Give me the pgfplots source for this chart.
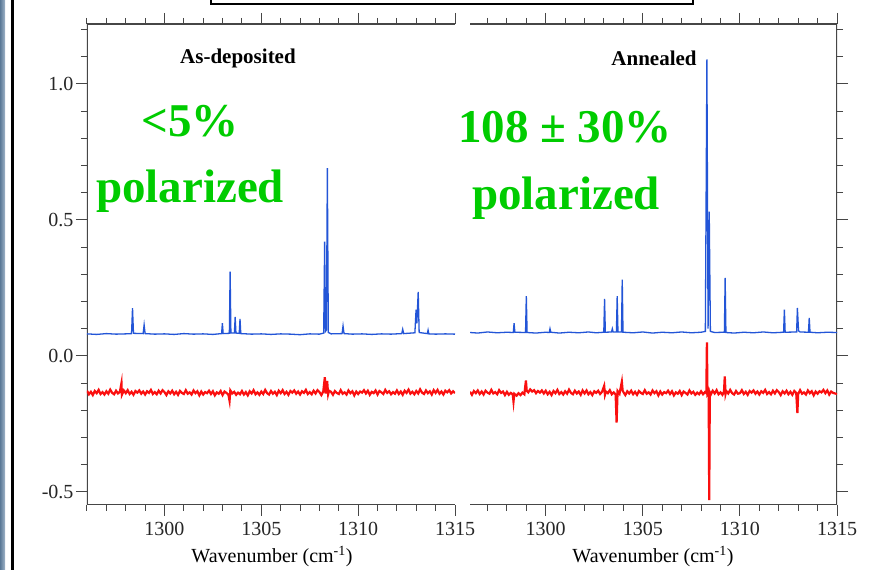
\documentclass[border=0pt]{standalone}
\usepackage{fontspec}
\setmainfont{Liberation Serif}
\usepackage{pgfplots}
\pgfplotsset{compat=1.18}
\definecolor{specblue}{RGB}{35,85,215}
\definecolor{specred}{RGB}{250,15,15}
\definecolor{polgreen}{RGB}{0,204,0}
\definecolor{axgray}{RGB}{70,70,70}
\definecolor{stripA}{RGB}{90,120,150}
\definecolor{stripB}{RGB}{160,180,200}
\begin{document}
\begin{tikzpicture}[x=1pt,y=1pt]
\path[use as bounding box] (0,0) rectangle (871,570);
\fill[white] (0,0) rectangle (871,570);
\shade[left color=stripA, right color=stripB] (0,0) rectangle (5,570);
\draw[black, line width=3pt] (12.5,0) -- (12.5,570);
\draw[black, line width=2pt] (211,575) -- (211,565.5) -- (693,565.5) -- (693,575);
\pgfplotsset{panel/.style={
  scale only axis, height=481pt, xmax=1315, ymin=-0.548, ymax=1.22,
  axis line style={draw=none},
  tick style={axgray, line width=1pt},
  tick align=outside, major tick length=11pt, minor tick length=6pt,
  xtick pos=both, xticklabel pos=bottom,
  xtick={1300,1305,1310,1315}, xticklabels={1300,1305,1310,1315},
  minor xtick={1296,1297,1298,1299,1301,1302,1303,1304,1306,1307,1308,1309,1311,1312,1313,1314},
  ytick={-0.5,0,0.5,1},
  minor ytick={-0.4,-0.3,-0.2,-0.1,0.1,0.2,0.3,0.4,0.6,0.7,0.8,0.9,1.1,1.2},
  ticklabel style={font=\fontsize{20}{22}\selectfont, text=black!85},
  xticklabel style={yshift=-3pt},
}}
% ---------------- As-deposited ----------------
\begin{axis}[panel, at={(87pt,65pt)}, anchor=south west, width=368pt, xmin=1296,
  ytick pos=left, yticklabels={-0.5,0.0,0.5,1.0}, yticklabel style={xshift=1pt}]
\draw[axgray, line width=1.2pt] (rel axis cs:1,1) -- (rel axis cs:0,1) -- (rel axis cs:0,0) -- (rel axis cs:1,0);
\addplot[specblue, line width=1.3pt] coordinates {
(1296.0,0.081)(1296.5,0.079)(1297.0,0.082)(1297.5,0.080)(1298.0,0.081)(1298.3,0.082)(1298.35,0.176)(1298.4,0.083)
(1298.9,0.082)(1298.95,0.114)(1299.0,0.082)(1299.5,0.080)(1300.0,0.081)(1300.5,0.079)(1301.0,0.082)(1301.5,0.080)
(1302.0,0.081)(1302.5,0.079)(1302.95,0.082)(1302.99,0.120)(1303.03,0.082)(1303.35,0.083)(1303.39,0.310)(1303.43,0.084)
(1303.61,0.084)(1303.65,0.143)(1303.69,0.084)(1303.86,0.083)(1303.9,0.136)(1303.94,0.082)(1304.5,0.080)(1305.0,0.081)
(1305.5,0.079)(1306.0,0.081)(1306.5,0.080)(1307.0,0.078)(1307.5,0.081)(1308.0,0.080)(1308.22,0.084)(1308.27,0.420)
(1308.31,0.090)(1308.36,0.095)(1308.41,0.690)(1308.46,0.086)(1308.6,0.081)(1309.17,0.082)(1309.22,0.110)(1309.27,0.082)
(1309.7,0.080)(1310.2,0.081)(1310.7,0.079)(1311.2,0.081)(1311.7,0.080)(1312.25,0.082)(1312.3,0.098)(1312.35,0.082)
(1312.93,0.085)(1312.99,0.170)(1313.03,0.120)(1313.1,0.235)(1313.15,0.086)(1313.57,0.082)(1313.61,0.095)(1313.65,0.081)
(1314.0,0.080)(1314.5,0.081)(1315.0,0.080)};
\addplot[specred, line width=2.2pt] coordinates {
(1296.0,-0.128)(1296.1,-0.141)(1296.2,-0.132)(1296.3,-0.144)(1296.4,-0.129)(1296.5,-0.137)(1296.6,-0.125)(1296.7,-0.140)
(1296.8,-0.133)(1296.9,-0.142)(1297.0,-0.130)(1297.1,-0.139)(1297.2,-0.124)(1297.3,-0.136)(1297.4,-0.141)(1297.5,-0.128)
(1297.6,-0.138)(1297.7,-0.131)(1297.78,-0.100)(1297.8,-0.143)(1297.9,-0.127)
(1298.0,-0.137)(1298.1,-0.126)(1298.2,-0.140)(1298.3,-0.132)(1298.4,-0.143)(1298.5,-0.129)(1298.6,-0.135)(1298.7,-0.127)
(1298.8,-0.139)(1298.9,-0.131)(1299.0,-0.142)(1299.1,-0.130)(1299.2,-0.136)(1299.3,-0.125)(1299.4,-0.140)(1299.5,-0.133)
(1299.6,-0.141)(1299.7,-0.128)(1299.8,-0.138)(1299.9,-0.126)
(1300.0,-0.133)(1300.1,-0.144)(1300.2,-0.130)(1300.3,-0.138)(1300.4,-0.128)(1300.5,-0.141)(1300.6,-0.132)(1300.7,-0.143)
(1300.8,-0.129)(1300.9,-0.136)(1301.0,-0.140)(1301.1,-0.126)(1301.2,-0.139)(1301.3,-0.134)(1301.4,-0.142)(1301.5,-0.127)
(1301.6,-0.137)(1301.7,-0.130)(1301.8,-0.145)(1301.9,-0.131)
(1302.0,-0.142)(1302.1,-0.133)(1302.2,-0.137)(1302.3,-0.128)(1302.4,-0.140)(1302.5,-0.130)(1302.6,-0.145)(1302.7,-0.134)
(1302.8,-0.139)(1302.9,-0.129)(1303.0,-0.144)(1303.1,-0.131)(1303.2,-0.136)(1303.3,-0.142)(1303.36,-0.165)(1303.4,-0.127)
(1303.5,-0.138)(1303.6,-0.132)(1303.7,-0.143)(1303.8,-0.135)(1303.9,-0.141)
(1304.0,-0.129)(1304.1,-0.142)(1304.2,-0.133)(1304.3,-0.145)(1304.4,-0.130)(1304.5,-0.138)(1304.6,-0.126)(1304.7,-0.141)
(1304.8,-0.134)(1304.9,-0.143)(1305.0,-0.131)(1305.1,-0.140)(1305.2,-0.125)(1305.3,-0.137)(1305.4,-0.142)(1305.5,-0.129)
(1305.6,-0.139)(1305.7,-0.132)(1305.8,-0.144)(1305.9,-0.128)
(1306.0,-0.137)(1306.1,-0.126)(1306.2,-0.140)(1306.3,-0.132)(1306.4,-0.143)(1306.5,-0.129)(1306.6,-0.135)(1306.7,-0.127)
(1306.8,-0.139)(1306.9,-0.131)(1307.0,-0.142)(1307.1,-0.130)(1307.2,-0.136)(1307.3,-0.125)(1307.4,-0.140)(1307.5,-0.133)
(1307.6,-0.141)(1307.7,-0.128)(1307.8,-0.138)(1307.9,-0.126)
(1308.0,-0.133)(1308.1,-0.144)(1308.2,-0.130)(1308.28,-0.078)(1308.32,-0.138)(1308.40,-0.092)(1308.45,-0.141)(1308.5,-0.128)
(1308.6,-0.132)(1308.7,-0.143)(1308.8,-0.129)(1308.9,-0.136)(1309.0,-0.140)(1309.1,-0.126)(1309.2,-0.139)(1309.3,-0.134)
(1309.4,-0.142)(1309.5,-0.127)(1309.6,-0.137)(1309.7,-0.130)(1309.8,-0.145)(1309.9,-0.131)
(1310.0,-0.140)(1310.1,-0.131)(1310.2,-0.135)(1310.3,-0.126)(1310.4,-0.138)(1310.5,-0.128)(1310.6,-0.143)(1310.7,-0.132)
(1310.8,-0.137)(1310.9,-0.127)(1311.0,-0.142)(1311.1,-0.129)(1311.2,-0.134)(1311.3,-0.140)(1311.4,-0.125)(1311.5,-0.136)
(1311.6,-0.130)(1311.7,-0.141)(1311.8,-0.133)(1311.9,-0.139)
(1312.0,-0.127)(1312.1,-0.140)(1312.2,-0.131)(1312.3,-0.143)(1312.4,-0.128)(1312.5,-0.136)(1312.6,-0.124)(1312.7,-0.139)
(1312.8,-0.132)(1312.9,-0.141)(1313.0,-0.129)(1313.1,-0.138)(1313.2,-0.123)(1313.3,-0.135)(1313.4,-0.140)(1313.5,-0.127)
(1313.6,-0.137)(1313.7,-0.130)(1313.8,-0.142)(1313.9,-0.126)
(1314.0,-0.136)(1314.1,-0.125)(1314.2,-0.139)(1314.3,-0.131)(1314.4,-0.142)(1314.5,-0.128)(1314.6,-0.134)(1314.7,-0.126)
(1314.8,-0.138)(1314.9,-0.130)(1315.0,-0.137)};
\end{axis}
% ---------------- Annealed ----------------
\begin{axis}[panel, at={(470pt,65pt)}, anchor=south west, width=367pt, xmin=1296.1,
  ytick pos=right, yticklabels={}]
\draw[axgray, line width=1.2pt] (rel axis cs:0,1) -- (rel axis cs:1,1) -- (rel axis cs:1,0) -- (rel axis cs:0,0);
\addplot[specblue, line width=1.3pt] coordinates {
(1296.1,0.086)(1296.5,0.084)(1297.0,0.088)(1297.5,0.085)(1298.0,0.087)(1298.33,0.086)(1298.37,0.120)(1298.41,0.087)
(1298.96,0.086)(1299.0,0.220)(1299.04,0.086)(1299.5,0.084)(1300.0,0.087)(1300.18,0.086)(1300.22,0.100)(1300.26,0.087)
(1300.7,0.084)(1301.2,0.087)(1301.7,0.085)(1302.2,0.088)(1302.6,0.085)(1302.99,0.087)(1303.03,0.210)(1303.07,0.087)
(1303.39,0.088)(1303.43,0.100)(1303.47,0.088)(1303.64,0.088)(1303.68,0.220)(1303.72,0.088)(1303.9,0.088)(1303.94,0.280)
(1303.98,0.087)(1304.5,0.085)(1305.0,0.088)(1305.5,0.084)(1306.0,0.087)(1306.5,0.085)(1307.0,0.088)(1307.5,0.085)
(1308.0,0.087)(1308.22,0.090)(1308.30,1.090)(1308.36,0.100)(1308.42,0.530)(1308.48,0.090)(1308.7,0.086)(1309.2,0.087)
(1309.24,0.287)(1309.28,0.086)(1309.7,0.084)(1310.2,0.087)(1310.7,0.085)(1311.2,0.088)(1311.7,0.085)(1312.25,0.087)
(1312.29,0.170)(1312.33,0.087)(1312.92,0.088)(1312.96,0.176)(1313.02,0.092)(1313.1,0.088)(1313.53,0.087)(1313.57,0.140)
(1313.61,0.087)(1314.0,0.085)(1314.5,0.087)(1315.0,0.086)};
\addplot[specred, line width=2.2pt] coordinates {
(1296.1,-0.132)(1296.2,-0.143)(1296.3,-0.129)(1296.4,-0.137)(1296.5,-0.127)(1296.6,-0.140)(1296.7,-0.131)(1296.8,-0.142)
(1296.9,-0.128)(1297.0,-0.135)(1297.1,-0.139)(1297.2,-0.125)(1297.3,-0.138)(1297.4,-0.133)(1297.5,-0.141)(1297.6,-0.126)
(1297.7,-0.136)(1297.8,-0.131)(1297.9,-0.144)(1298.0,-0.132)(1298.1,-0.143)(1298.2,-0.136)(1298.3,-0.141)(1298.34,-0.168)
(1298.38,-0.139)(1298.5,-0.146)(1298.6,-0.137)(1298.7,-0.144)(1298.8,-0.135)(1298.9,-0.141)(1298.98,-0.090)(1299.02,-0.128)
(1299.1,-0.134)(1299.2,-0.123)(1299.3,-0.131)(1299.4,-0.126)(1299.5,-0.137)(1299.6,-0.129)(1299.7,-0.135)(1299.8,-0.127)
(1299.9,-0.138)
(1300.0,-0.128)(1300.1,-0.141)(1300.2,-0.132)(1300.3,-0.144)(1300.4,-0.129)(1300.5,-0.137)(1300.6,-0.125)(1300.7,-0.140)
(1300.8,-0.133)(1300.9,-0.142)(1301.0,-0.130)(1301.1,-0.139)(1301.2,-0.124)(1301.3,-0.136)(1301.4,-0.141)(1301.5,-0.128)
(1301.6,-0.138)(1301.7,-0.131)(1301.8,-0.143)(1301.9,-0.127)
(1302.0,-0.138)(1302.1,-0.127)(1302.2,-0.141)(1302.3,-0.133)(1302.4,-0.144)(1302.5,-0.130)(1302.6,-0.136)(1302.7,-0.128)
(1302.8,-0.140)(1302.9,-0.132)(1303.01,-0.110)(1303.05,-0.143)(1303.1,-0.131)(1303.2,-0.137)(1303.3,-0.126)(1303.4,-0.141)
(1303.5,-0.134)(1303.6,-0.142)(1303.65,-0.245)(1303.7,-0.129)(1303.8,-0.139)(1303.92,-0.095)(1303.96,-0.127)
(1304.0,-0.133)(1304.1,-0.144)(1304.2,-0.130)(1304.3,-0.138)(1304.4,-0.128)(1304.5,-0.141)(1304.6,-0.132)(1304.7,-0.143)
(1304.8,-0.129)(1304.9,-0.136)(1305.0,-0.140)(1305.1,-0.126)(1305.2,-0.139)(1305.3,-0.134)(1305.4,-0.142)(1305.5,-0.127)
(1305.6,-0.137)(1305.7,-0.130)(1305.8,-0.145)(1305.9,-0.131)
(1306.0,-0.142)(1306.1,-0.133)(1306.2,-0.137)(1306.3,-0.128)(1306.4,-0.140)(1306.5,-0.130)(1306.6,-0.145)(1306.7,-0.134)
(1306.8,-0.139)(1306.9,-0.129)(1307.0,-0.144)(1307.1,-0.131)(1307.2,-0.136)(1307.3,-0.142)(1307.4,-0.127)(1307.5,-0.138)
(1307.6,-0.132)(1307.7,-0.143)(1307.8,-0.135)(1307.9,-0.141)
(1308.0,-0.130)(1308.1,-0.141)(1308.2,-0.133)(1308.27,-0.137)(1308.30,0.050)(1308.33,-0.139)(1308.39,-0.131)(1308.42,-0.530)
(1308.45,-0.134)(1308.5,-0.142)(1308.6,-0.128)(1308.7,-0.138)(1308.8,-0.126)(1308.9,-0.141)(1309.0,-0.134)(1309.1,-0.143)
(1309.18,-0.131)(1309.22,-0.075)(1309.26,-0.140)(1309.3,-0.129)(1309.4,-0.138)(1309.5,-0.125)(1309.6,-0.137)(1309.7,-0.142)
(1309.8,-0.129)(1309.9,-0.139)
(1310.0,-0.137)(1310.1,-0.126)(1310.2,-0.140)(1310.3,-0.132)(1310.4,-0.143)(1310.5,-0.129)(1310.6,-0.135)(1310.7,-0.127)
(1310.8,-0.139)(1310.9,-0.131)(1311.0,-0.142)(1311.1,-0.130)(1311.2,-0.136)(1311.3,-0.125)(1311.4,-0.140)(1311.5,-0.133)
(1311.6,-0.141)(1311.7,-0.128)(1311.8,-0.138)(1311.9,-0.126)
(1312.0,-0.133)(1312.1,-0.144)(1312.2,-0.130)(1312.3,-0.138)(1312.4,-0.128)(1312.5,-0.141)(1312.6,-0.132)(1312.7,-0.143)
(1312.8,-0.129)(1312.9,-0.136)(1312.96,-0.210)(1313.0,-0.140)(1313.1,-0.126)(1313.2,-0.139)(1313.3,-0.134)(1313.4,-0.142)
(1313.5,-0.127)(1313.6,-0.137)(1313.7,-0.130)(1313.8,-0.145)(1313.9,-0.131)
(1314.0,-0.139)(1314.1,-0.130)(1314.2,-0.134)(1314.3,-0.125)(1314.4,-0.137)(1314.5,-0.127)(1314.6,-0.142)(1314.7,-0.131)
(1314.8,-0.136)(1314.9,-0.138)(1315.0,-0.140)};
\end{axis}
% ---------------- texts ----------------
\node[anchor=base, font=\bfseries\fontsize{21}{23}\selectfont] at (238,506) {As-deposited};
\node[anchor=base, font=\bfseries\fontsize{21}{23}\selectfont] at (654,504.5) {Annealed};
\node[anchor=base, text=polgreen, font=\bfseries\fontsize{47}{50}\selectfont] at (190,433) {<5\%};
\node[anchor=base, text=polgreen, font=\bfseries\fontsize{47}{50}\selectfont] at (190,367) {polarized};
\node[anchor=base, text=polgreen, font=\bfseries\fontsize{47}{50}\selectfont] at (565,427) {108 ± 30\%};
\node[anchor=base, text=polgreen, font=\bfseries\fontsize{47}{50}\selectfont] at (566,360) {polarized};
\node[anchor=base, font=\fontsize{20}{22}\selectfont] at (272,7) {Wavenumber (cm\textsuperscript{-1})};
\node[anchor=base, font=\fontsize{20}{22}\selectfont] at (653,7) {Wavenumber (cm\textsuperscript{-1})};
\end{tikzpicture}
\end{document}
